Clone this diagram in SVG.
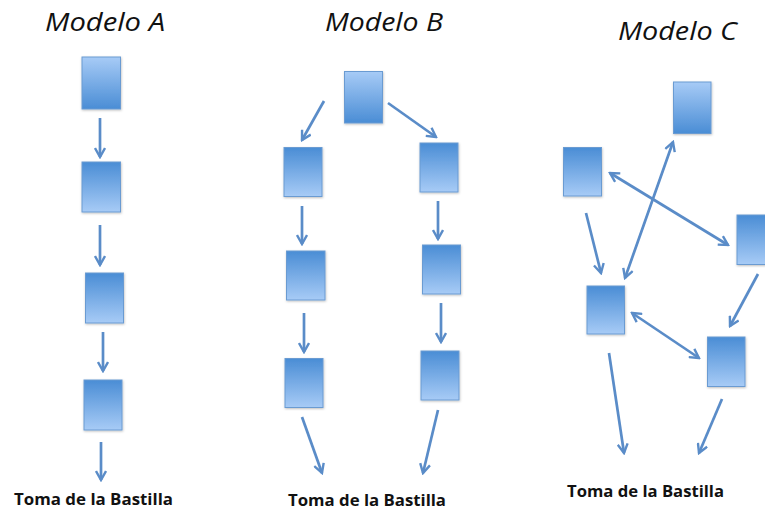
<svg xmlns="http://www.w3.org/2000/svg" width="765" height="510" viewBox="0 0 765 510">
<style>
.title{font-family:"Open Sans","Liberation Sans",sans-serif;font-style:italic;font-size:25px;fill:#111}
.goal{font-family:"Open Sans","Liberation Sans",sans-serif;font-weight:bold;font-size:16.5px;fill:#111}
.box{stroke:#6b9bd2;stroke-width:1;filter:url(#sh)}
.dn{fill:url(#gDown)}
.up{fill:url(#gUp)}
.arr{stroke:#5a8cc8;stroke-width:2.7;fill:none;marker-end:url(#ah)}
.bi{marker-start:url(#ah)}
</style>
<defs>
<linearGradient id="gDown" x1="0" y1="0" x2="0" y2="1">
<stop offset="0" stop-color="#4a8dd5"/>
<stop offset="1" stop-color="#a7cbf6"/>
</linearGradient>
<linearGradient id="gUp" x1="0" y1="0" x2="0" y2="1">
<stop offset="0" stop-color="#a7cbf6"/>
<stop offset="1" stop-color="#4a8dd5"/>
</linearGradient>
<filter id="sh" x="-20%" y="-20%" width="140%" height="140%">
<feDropShadow dx="0.5" dy="1" stdDeviation="0.8" flood-color="#000" flood-opacity="0.25"/>
</filter>
<marker id="ah" viewBox="0 0 12 12" refX="10" refY="6" markerWidth="12" markerHeight="12" markerUnits="userSpaceOnUse" orient="auto-start-reverse">
<path d="M1,1 L10,6 L1,11" fill="none" stroke="#5a8cc8" stroke-width="2.4" stroke-linejoin="miter"/>
</marker>
</defs>

<text class="title" x="45" y="31" textLength="120" lengthAdjust="spacingAndGlyphs">Modelo A</text>
<text class="title" x="325" y="31" textLength="118" lengthAdjust="spacingAndGlyphs">Modelo B</text>
<text class="title" x="618" y="40" textLength="119" lengthAdjust="spacingAndGlyphs">Modelo C</text>

<g id="connectors">
<!-- Modelo A -->
<line class="arr" x1="100" y1="118" x2="100" y2="157"/>
<line class="arr" x1="100" y1="225" x2="100" y2="265"/>
<line class="arr" x1="103" y1="332" x2="103" y2="371"/>
<line class="arr" x1="101" y1="442" x2="101" y2="480"/>
<!-- Modelo B -->
<line class="arr" x1="324" y1="101" x2="302" y2="140"/>
<line class="arr" x1="388" y1="103" x2="436" y2="137"/>
<line class="arr" x1="302" y1="206" x2="302" y2="244"/>
<line class="arr" x1="438" y1="201" x2="438" y2="239"/>
<line class="arr" x1="304" y1="313" x2="304" y2="352"/>
<line class="arr" x1="441" y1="303" x2="441" y2="342"/>
<line class="arr" x1="302" y1="417" x2="322" y2="473"/>
<line class="arr" x1="438" y1="410" x2="423" y2="473"/>
<!-- Modelo C -->
<line class="arr" x1="586" y1="213" x2="601" y2="273"/>
<line class="arr bi" x1="673" y1="142" x2="625" y2="278"/>
<line class="arr bi" x1="610" y1="173" x2="728" y2="245"/>
<line class="arr" x1="758" y1="274" x2="730" y2="326"/>
<line class="arr bi" x1="632" y1="313" x2="699" y2="358"/>
<line class="arr" x1="609" y1="353" x2="624" y2="453"/>
<line class="arr" x1="722" y1="399" x2="699" y2="453"/>
</g>

<g id="a1"><rect class="box up" x="82" y="57" width="38.5" height="52"/></g>
<g id="a2"><rect class="box dn" x="82" y="162" width="38.5" height="50"/></g>
<g id="a3"><rect class="box dn" x="85.5" y="273" width="38" height="50"/></g>
<g id="a4"><rect class="box dn" x="84" y="380" width="38" height="50"/></g>

<g id="b0"><rect class="box up" x="344.5" y="71.5" width="38" height="51.5"/></g>
<g id="b1"><rect class="box dn" x="284" y="147.5" width="38" height="49"/></g>
<g id="b2"><rect class="box dn" x="286.5" y="251" width="38.5" height="49"/></g>
<g id="b3"><rect class="box dn" x="285" y="358.5" width="38" height="49"/></g>
<g id="b4"><rect class="box dn" x="420" y="143" width="38" height="49"/></g>
<g id="b5"><rect class="box dn" x="422.5" y="245" width="38" height="49"/></g>
<g id="b6"><rect class="box dn" x="421" y="351" width="38" height="49"/></g>

<g id="c1"><rect class="box up" x="673.5" y="82" width="37.5" height="51.5"/></g>
<g id="c2"><rect class="box dn" x="563.5" y="147.5" width="38" height="48.5"/></g>
<g id="c3"><rect class="box dn" x="737" y="215" width="38" height="49.5"/></g>
<g id="c4"><rect class="box dn" x="587" y="286" width="37.5" height="48"/></g>
<g id="c5"><rect class="box dn" x="707.5" y="337" width="37.5" height="49.5"/></g>

<g id="goalA"><text class="goal" x="14" y="505" textLength="159" lengthAdjust="spacingAndGlyphs">Toma de la Bastilla</text></g>
<g id="goalB"><text class="goal" x="288" y="506" textLength="158" lengthAdjust="spacingAndGlyphs">Toma de la Bastilla</text></g>
<g id="goalC"><text class="goal" x="567" y="497" textLength="157" lengthAdjust="spacingAndGlyphs">Toma de la Bastilla</text></g>
</svg>
